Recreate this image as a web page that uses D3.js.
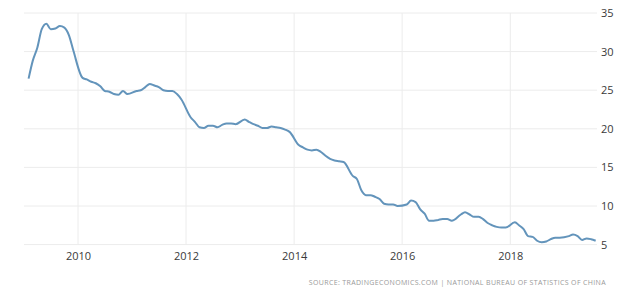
<!DOCTYPE html>
<html>
<head>
<meta charset="utf-8">
<script src="https://cdn.jsdelivr.net/npm/d3@7"></script>
<style>
  body { margin: 0; background: #fff; }
  svg { display: block; font-family: "Open Sans", sans-serif; }
</style>
</head>
<body>
<svg width="620" height="290"></svg>
<script>
// monthly readings, Feb..Dec each year (no January release), 2019 until Aug
const years = [2009, 2010, 2011, 2012, 2013, 2014, 2015, 2016, 2017, 2018, 2019];
const values = [
    [26.5, 28.8, 30.5, 32.9, 33.6, 32.9, 33.0, 33.3, 33.1, 32.1, 30.1],
    [26.6, 26.4, 26.1, 25.9, 25.5, 24.9, 24.8, 24.5, 24.4, 24.9, 24.5],
    [24.9, 25.0, 25.4, 25.8, 25.6, 25.4, 25.0, 24.9, 24.9, 24.5, 23.8],
    [21.5, 20.9, 20.2, 20.1, 20.4, 20.4, 20.2, 20.5, 20.7, 20.7, 20.6],
    [21.2, 20.9, 20.6, 20.4, 20.1, 20.1, 20.3, 20.2, 20.1, 19.9, 19.6],
    [17.9, 17.6, 17.3, 17.2, 17.3, 17.0, 16.5, 16.1, 15.9, 15.8, 15.7],
    [13.9, 13.5, 12.0, 11.4, 11.4, 11.2, 10.9, 10.3, 10.2, 10.2, 10.0],
    [10.2, 10.7, 10.5, 9.6, 9.0, 8.1, 8.1, 8.2, 8.3, 8.3, 8.1],
    [8.9, 9.2, 8.9, 8.6, 8.6, 8.3, 7.8, 7.5, 7.3, 7.2, 7.2],
    [7.9, 7.5, 7.0, 6.1, 6.0, 5.5, 5.3, 5.4, 5.7, 5.9, 5.9],
    [6.1, 6.3, 6.1, 5.6, 5.8, 5.7, 5.5]
];
const yTicks = [5, 10, 15, 20, 25, 30, 35];
const xTicks = [2010, 2012, 2014, 2016, 2018];
const source = "SOURCE: TRADINGECONOMICS.COM | NATIONAL BUREAU OF STATISTICS OF CHINA";

let data = [];
for (let i = 0; i < years.length; i++) {
    for (let j = 0; j < values[i].length; j++) {
        data.push({date: new Date(years[i], j + 1, 1), value: values[i][j]});
    }
}

var svg = d3.select('svg');

var x = d3.scaleTime()
    .domain([new Date(2009, 0, 1), new Date(2019, 7, 10)])
    .range([24, 597]);
var y = d3.scaleLinear()
    .domain([5, 35])
    .range([244.6, 13]);

// grid
svg.append('g')
    .selectAll('line')
    .data(yTicks)
    .enter()
    .append('line')
    .attr('x1', 24).attr('x2', 597)
    .attr('y1', d => y(d)).attr('y2', d => y(d))
    .style('stroke', '#ececec');

svg.append('g')
    .selectAll('line')
    .data(xTicks)
    .enter()
    .append('line')
    .attr('x1', d => x(new Date(d, 0, 1))).attr('x2', d => x(new Date(d, 0, 1)))
    .attr('y1', y(35)).attr('y2', y(5))
    .style('stroke', '#ececec');

// axes (labels only)
var yAxis = svg.append('g')
    .attr('transform', 'translate(597,0)')
    .call(d3.axisRight(y).tickValues(yTicks).tickSize(0).tickPadding(4));
var xAxis = svg.append('g')
    .attr('transform', 'translate(0,' + y(5) + ')')
    .call(d3.axisBottom(x).tickValues(xTicks.map(d => new Date(d, 0, 1)))
        .tickFormat(d3.timeFormat('%Y')).tickSize(0).tickPadding(8));
[yAxis, xAxis].forEach(a => {
    a.select('.domain').remove();
    a.selectAll('text')
        .style('font-family', '"Open Sans", sans-serif')
        .style('font-size', '11px')
        .style('fill', '#3a3a3a');
});

var line = d3.line()
    .x(d => x(d.date))
    .y(d => y(d.value))
    .curve(d3.curveMonotoneX);

svg.append('path')
    .datum(data)
    .attr('d', line)
    .style('fill', 'none')
    .style('stroke', '#6394bb')
    .style('stroke-width', 2)
    .style('stroke-linejoin', 'round');

svg.append('text')
    .attr('x', 606)
    .attr('y', 285)
    .attr('text-anchor', 'end')
    .style('font-size', '7px')
    .style('letter-spacing', '0.35px')
    .style('fill', '#999')
    .text(source);
</script>
</body>
</html>
